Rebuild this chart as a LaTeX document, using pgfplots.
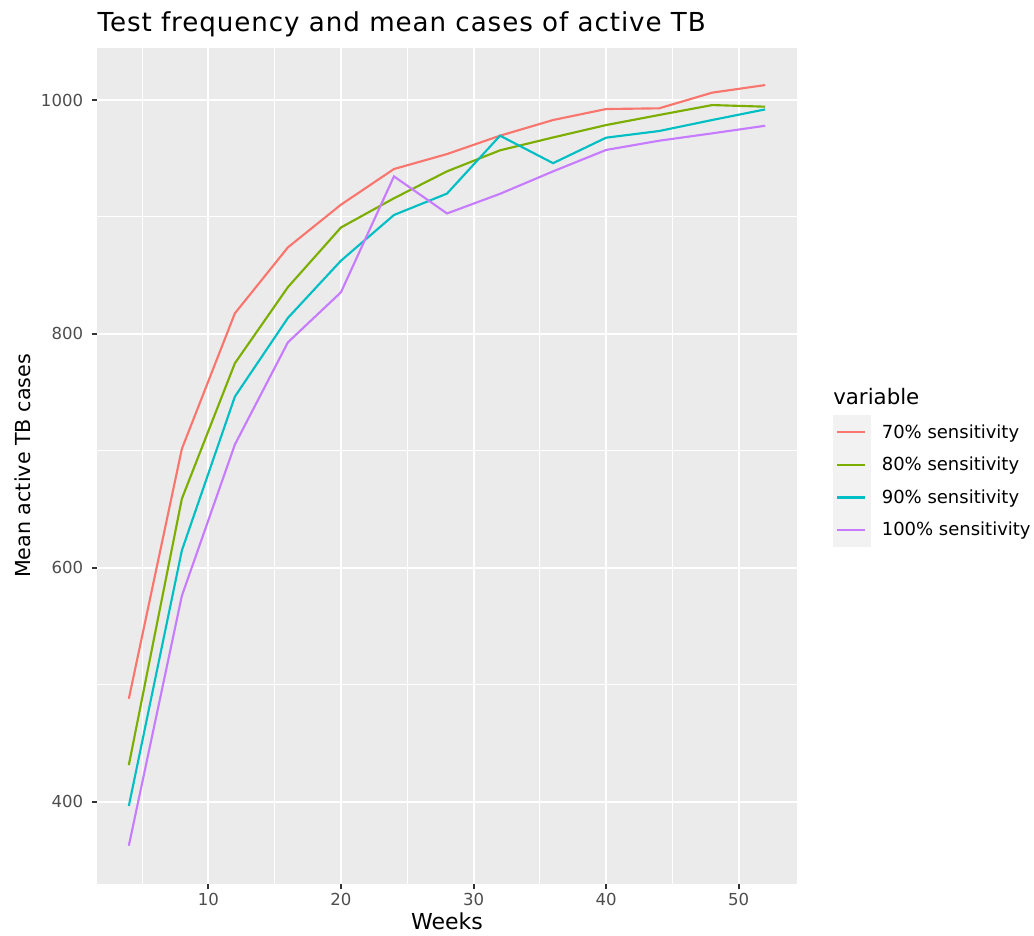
\documentclass[border=0pt]{standalone}
\usepackage{pgfplots}
\pgfplotsset{compat=1.18}
\usepackage{fontspec}
\setmainfont{DejaVu Sans}
\definecolor{panelbg}{HTML}{EBEBEB}
\definecolor{keybg}{HTML}{F2F2F2}
\definecolor{ticklab}{HTML}{4D4D4D}
\definecolor{tickc}{HTML}{333333}
\definecolor{c70}{HTML}{F8766D}
\definecolor{c80}{HTML}{7CAE00}
\definecolor{c90}{HTML}{00BFC4}
\definecolor{c100}{HTML}{C77CFF}
\pgfplotstableread{
x s70 s80 s90 s100
4 488 431.3 396.3 362.3
8 701.7 659 614.8 576
12 817.6 774.9 746.4 705.4
16 874 840 813.7 792.8
20 910.5 891 862.6 835.6
24 941 916 901.7 934.7
28 953.8 939 920 903
32 969.5 957 969.5 919.8
36 982.9 968 946 939
40 992.3 978.6 967.8 957.3
44 992.9 987.2 973.5 965.2
48 1006.3 995.7 982.9 971.5
52 1012.8 994.3 992 978
}\datatable
\begin{document}
\begin{tikzpicture}
\useasboundingbox (0,0) rectangle (775.5pt,701.25pt);
\begin{axis}[
  at={(72.75pt,38.25pt)}, anchor=south west,
  scale only axis, width=525pt, height=627pt,
  xmin=1.6, xmax=54.4, ymin=329.6, ymax=1044.5,
  xtick={10,20,30,40,50}, ytick={400,600,800,1000},
  minor xtick={5,15,25,35,45}, minor ytick={500,700,900},
  grid=both,
  major grid style={white, line width=1.5pt},
  minor grid style={white, line width=0.75pt},
  axis background/.style={fill=panelbg},
  axis line style={draw=none},
  tick pos=left, tick align=outside,
  major tick length=3.75pt, minor tick length=0pt,
  tick style={draw=tickc, line width=1.5pt},
  /pgf/number format/assume math mode=true,
  /pgf/number format/1000 sep={},
  ticklabel style={font=\fontsize{12.4pt}{14pt}\selectfont, text=ticklab},
  xticklabel style={anchor=north, inner sep=0pt, yshift=-3pt},
  yticklabel style={anchor=east, inner sep=0pt, xshift=-6.5pt},
  legend cell align=left,
  legend style={at={(1.05143,0.55981)}, anchor=north west, draw=none, fill=none,
    inner sep=0pt, outer sep=0pt, row sep=0pt, column sep=8pt,
    nodes={inner sep=0pt, font=\fontsize{13.5pt}{15pt}\selectfont, text=black}},
  legend image code/.code={\path (0pt,-11.43pt) rectangle (27pt,11.43pt);
    \fill[keybg, overlay] (0pt,-12.1pt) rectangle (27pt,12.1pt);
    \draw[#1, overlay] (2.25pt,0pt) -- (23.25pt,0pt);},
  every axis plot/.append style={line width=1.6pt},
]
\addplot[c70, no markers] table[x=x, y=s70] {\datatable};
\addlegendentry{70\% sensitivity}
\addplot[c80, no markers] table[x=x, y=s80] {\datatable};
\addlegendentry{80\% sensitivity}
\addplot[c90, no markers] table[x=x, y=s90] {\datatable};
\addlegendentry{90\% sensitivity}
\addplot[c100, no markers] table[x=x, y=s100] {\datatable};
\addlegendentry{100\% sensitivity}
\end{axis}
\node[anchor=base west, inner sep=0pt, font=\fontsize{19.6pt}{23pt}\selectfont\addfontfeature{LetterSpace=3.6}] at (72.98pt,677.5pt) {Test frequency and mean cases of active TB};
\node[anchor=base, inner sep=0pt, font=\fontsize{16.5pt}{19pt}\selectfont] at (335.25pt,4.5pt) {Weeks};
\node[anchor=base, rotate=90, inner sep=0pt, font=\fontsize{15.5pt}{18pt}\selectfont] at (23pt,351.75pt) {Mean active TB cases};
\node[anchor=base west, inner sep=0pt, font=\fontsize{16pt}{18pt}\selectfont] at (624.75pt,397.7pt) {variable};
\end{tikzpicture}
\end{document}
